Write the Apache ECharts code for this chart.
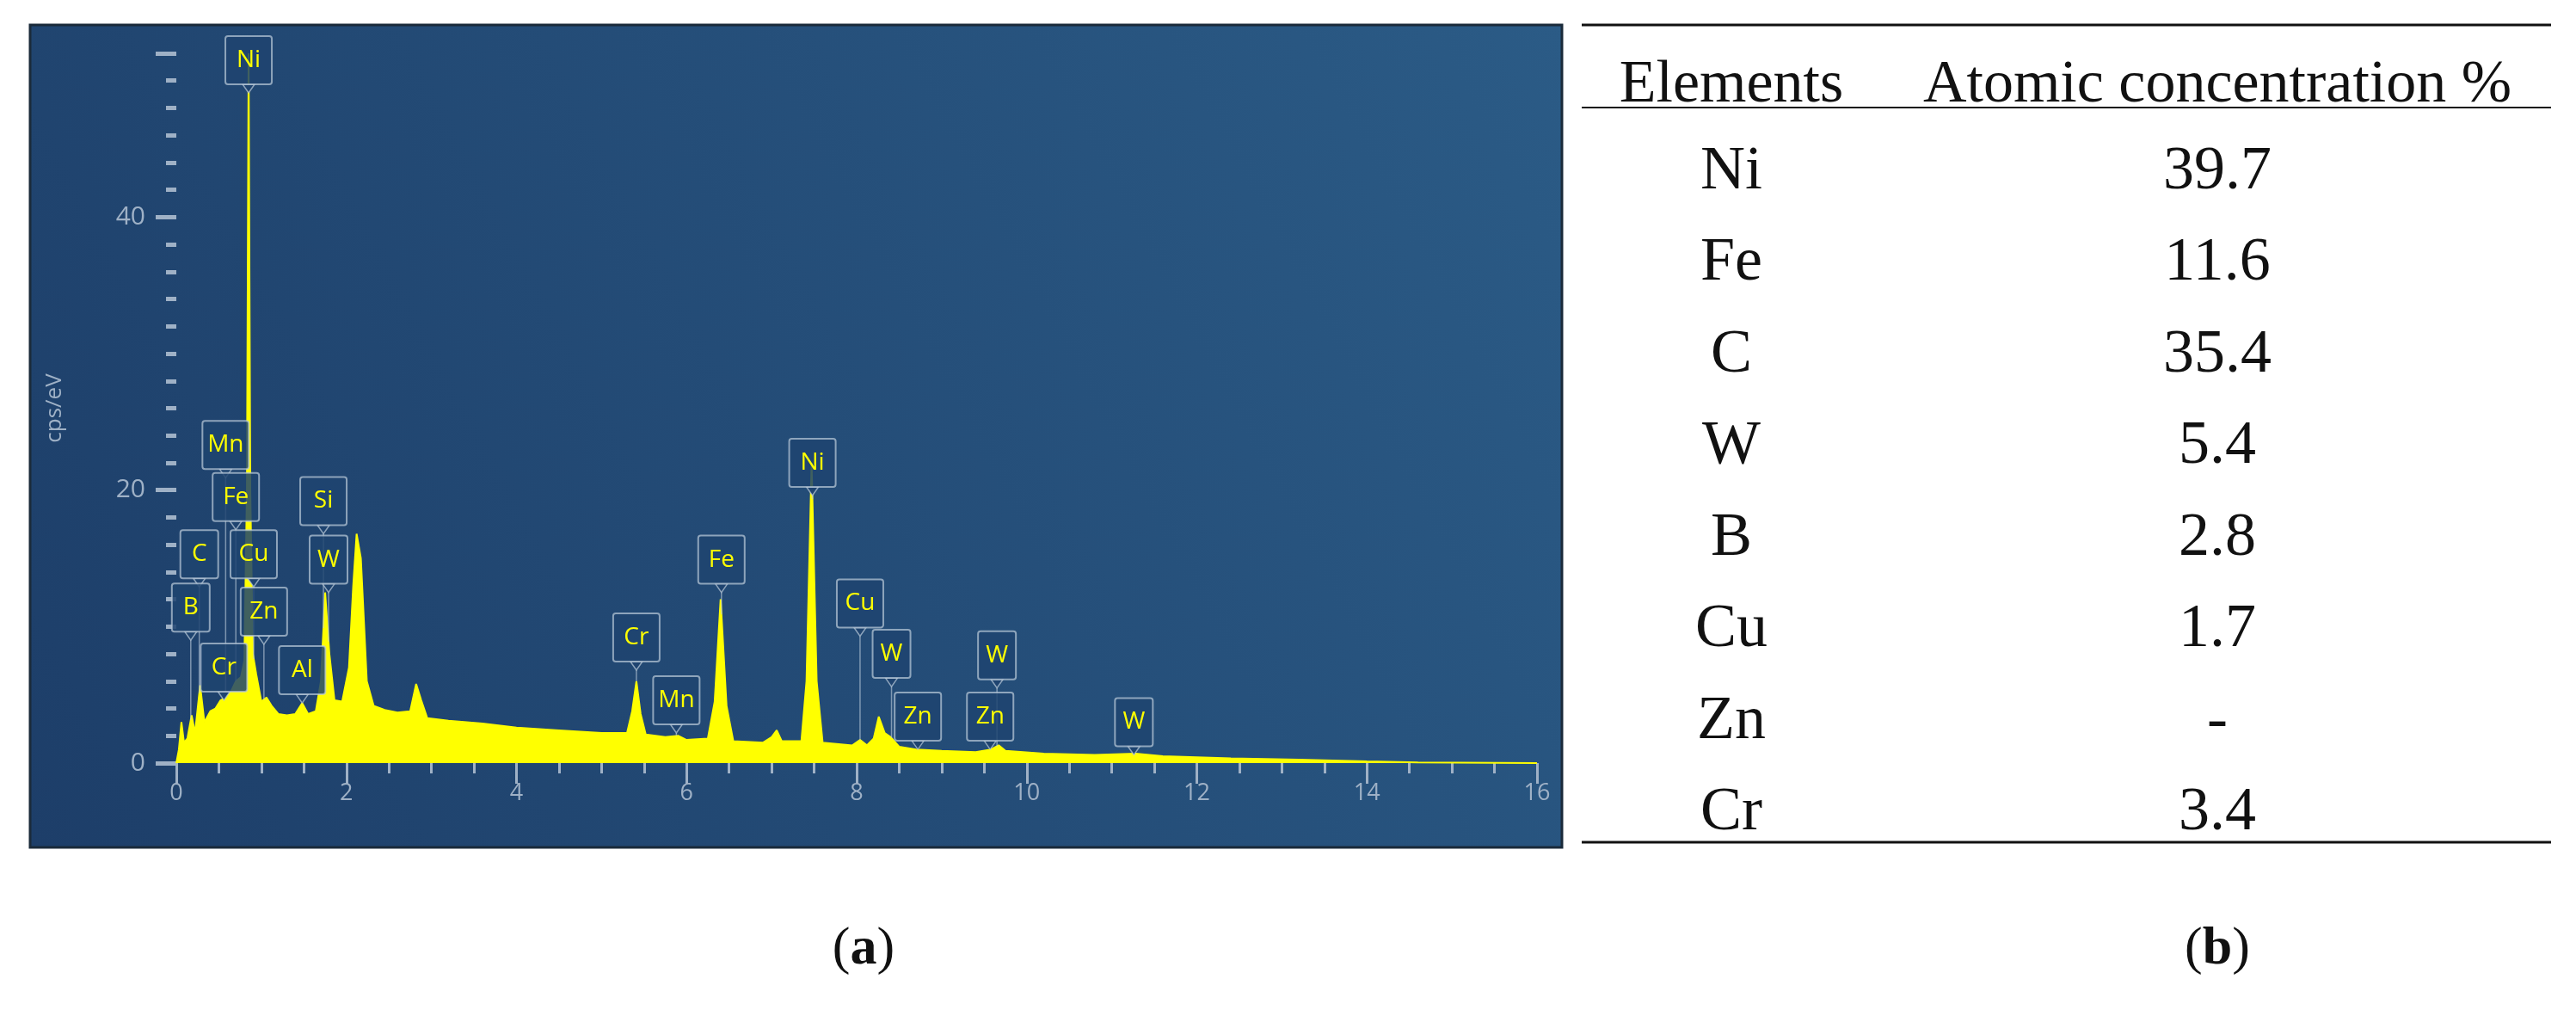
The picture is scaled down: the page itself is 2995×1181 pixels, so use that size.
<!DOCTYPE html>
<html>
<head>
<meta charset="utf-8">
<script src="https://cdn.jsdelivr.net/npm/echarts@6/dist/echarts.min.js"></script>
<style>html,body{margin:0;padding:0;background:#fff}#main{width:2995px;height:1181px}</style>
</head>
<body>
<div id="main"></div>
<script>
// spectrum (keV, cps/eV)
var energyKeV = [0,0.03,0.06,0.09,0.13,0.18,0.22,0.28,0.33,0.40,0.46,0.52,0.58,0.64,0.70,0.76,0.80,0.83,0.85,0.87,0.90,0.94,1.00,1.06,1.12,1.20,1.30,1.40,1.48,1.55,1.64,1.70,1.75,1.80,1.86,1.95,2.03,2.08,2.12,2.17,2.24,2.32,2.45,2.60,2.75,2.82,2.88,2.95,3.2,3.6,4.0,4.5,5.0,5.30,5.36,5.41,5.46,5.52,5.75,5.90,6.00,6.25,6.33,6.40,6.47,6.55,6.90,7.00,7.06,7.12,7.35,7.41,7.47,7.53,7.60,7.95,8.04,8.12,8.20,8.26,8.33,8.40,8.50,8.7,9.0,9.4,9.58,9.67,9.75,10.2,10.8,11.28,11.6,12.4,13.2,14.0,14.6,16]
var countsCps = [0,1.0,3.0,1.5,1.8,3.5,2.2,5.7,3.0,3.8,4.0,4.6,4.8,5.2,6.0,6.3,7.5,20,52,20,8,6.5,4.5,4.8,4.2,3.6,3.5,3.6,4.4,3.6,3.8,6,12.5,8,4.6,4.5,7,13,16.8,15,6,4.2,3.9,3.7,3.8,5.8,4.6,3.3,3.1,2.9,2.6,2.4,2.2,2.2,3.8,6.0,3.6,2.1,1.9,2.0,1.7,1.8,4.5,12.0,4.2,1.6,1.5,1.9,2.4,1.6,1.6,6,22,6,1.5,1.3,1.7,1.3,1.8,3.4,2.2,1.9,1.2,1.0,0.9,0.8,1.0,1.3,0.9,0.7,0.6,0.7,0.5,0.35,0.25,0.12,0.05,0]

// peak tags: name, energy of the box, height of the box
var tagNames  = ['Ni','Mn','Fe','C','Cu','B','Zn','Cr','Al','Si','W','Cr','Mn','Fe','Ni','Cu','W','Zn','W','Zn','W']
var tagEnergy = [0.85,0.58,0.70,0.27,0.91,0.17,1.03,0.56,1.48,1.73,1.79,5.41,5.88,6.41,7.48,8.04,8.41,8.72,9.65,9.57,11.26]
var tagHeight = [51.5,23.3,19.5,15.3,15.3,11.4,11.1,7.0,6.8,19.2,14.9,9.2,4.6,14.9,22,11.7,8.0,3.4,7.9,3.4,3.0]

// table (b)
var tableHead = ['Elements','Atomic concentration %']
var tableElements = ['Ni','Fe','C','W','B','Cu','Zn','Cr']
var tableConcentration = ['39.7','11.6','35.4','5.4','2.8','1.7','-','3.4']

function spectrumAt(e){
  for (var i = 1; i < energyKeV.length; i++) {
    if (e <= energyKeV[i]) {
      var t = (e - energyKeV[i-1]) / (energyKeV[i] - energyKeV[i-1])
      return countsCps[i-1] + t * (countsCps[i] - countsCps[i-1])
    }
  }
  return 0
}

var axisGrey = '#9fb1c6'
var chart = echarts.init(document.getElementById('main'))

var graphics = [{
  type: 'rect', z: -10,
  shape: {x: 35, y: 29, width: 1781, height: 956},
  style: {
    fill: new echarts.graphic.LinearGradient(1, 0, 0, 1, [
      {offset: 0, color: '#2b5b86'}, {offset: 1, color: '#1d3e69'}
    ]),
    stroke: '#1a2a3a', lineWidth: 3
  }
}]

// table lines
var tx0 = 1839, tx1 = 2966
;[29, 125, 979].forEach(function (y, i) {
  graphics.push({type: 'line', shape: {x1: tx0, y1: y, x2: tx1, y2: y}, style: {stroke: '#111', lineWidth: i == 1 ? 2 : 3}})
})
var serif = '"Liberation Serif", "DejaVu Serif", serif'
graphics.push({type: 'text', style: {text: tableHead[0], x: 2013, y: 100, align: 'center', verticalAlign: 'middle', font: '70px ' + serif, fill: '#111'}})
graphics.push({type: 'text', style: {text: tableHead[1], x: 2578, y: 100, align: 'center', verticalAlign: 'middle', font: '70px ' + serif, fill: '#111'}})
tableElements.forEach(function (el, i) {
  var y = 200 + i * 106.5
  graphics.push({type: 'text', style: {text: el, x: 2013, y: y, align: 'center', verticalAlign: 'middle', font: '72px ' + serif, fill: '#111'}})
  graphics.push({type: 'text', style: {text: tableConcentration[i], x: 2578, y: y, align: 'center', verticalAlign: 'middle', font: '72px ' + serif, fill: '#111'}})
})
// captions
;[['a', 1004], ['b', 2578]].forEach(function (c) {
  graphics.push({type: 'text', style: {
    text: '({b|' + c[0] + '})', x: c[1], y: 1104, align: 'center', verticalAlign: 'middle',
    font: '62px ' + serif, fill: '#111',
    rich: {b: {fontWeight: 'bold', fontSize: 62, fontFamily: serif, fill: '#111'}}
  }})
})

var spectrum = energyKeV.map(function (e, i) { return [e, countsCps[i]] })
var tags = tagNames.map(function (n, i) { return [tagEnergy[i], tagHeight[i], n] })

chart.setOption({
  animation: false,
  backgroundColor: '#fff',
  graphic: graphics,
  grid: {left: 205, right: 1208, top: 62, bottom: 294},
  xAxis: [{
    type: 'value', min: 0, max: 16, interval: 2, offset: 10,
    axisLine: {show: false},
    axisTick: {length: 24, lineStyle: {color: axisGrey, width: 3}},
    minorTick: {show: true, splitNumber: 4, length: 12, lineStyle: {color: axisGrey, width: 3}},
    axisLabel: {color: axisGrey, fontSize: 27, fontFamily: 'Open Sans', margin: 12},
    splitLine: {show: false}
  }],
  yAxis: [{
    type: 'value', min: 0, max: 52, interval: 20, offset: 28,
    name: 'cps/eV', nameLocation: 'middle', nameGap: 100, nameRotate: 90,
    nameTextStyle: {color: axisGrey, fontSize: 26, fontFamily: 'Open Sans'},
    axisLine: {show: false},
    axisTick: {length: 24, lineStyle: {color: axisGrey, width: 5}},
    minorTick: {show: true, splitNumber: 10, length: 12, lineStyle: {color: axisGrey, width: 5}},
    axisLabel: {color: axisGrey, fontSize: 30, fontFamily: 'Open Sans', margin: 8, showMaxLabel: false},
    splitLine: {show: false}
  }],
  series: [{
    type: 'line', data: spectrum, symbol: 'none',
    lineStyle: {color: '#ffff00', width: 2},
    areaStyle: {color: '#ffff00', opacity: 1}
  }, {
    type: 'custom', data: tags, z: 5,
    renderItem: function (params, api) {
      var e = api.value(0), h = api.value(1), name = tags[params.dataIndex][2]
      var c = api.coord([e, h])
      var tip = api.coord([e, spectrumAt(e)])
      var w = name.length > 1 ? 54 : 44, hh = 56
      var bottom = c[1] + hh / 2
      return {type: 'group', children: [
        {type: 'line', shape: {x1: c[0], y1: bottom + 10, x2: c[0], y2: Math.max(tip[1], bottom + 10)},
         style: {stroke: 'rgba(190,205,220,0.6)', lineWidth: 1.5}},
        {type: 'polygon', shape: {points: [[c[0] - 7, bottom], [c[0] + 7, bottom], [c[0], bottom + 10]]},
         style: {fill: '#1f4470', stroke: 'rgba(190,205,220,0.7)', lineWidth: 1.5}},
        {type: 'rect', shape: {x: c[0] - w / 2, y: c[1] - hh / 2, width: w, height: hh, r: 3},
         style: {fill: 'rgba(31,68,112,0.85)', stroke: 'rgba(190,205,220,0.7)', lineWidth: 2}},
        {type: 'text', style: {text: name, x: c[0], y: c[1], align: 'center', verticalAlign: 'middle',
         font: '28px "Open Sans"', fill: '#ffff00'}}
      ]}
    }
  }]
})
</script>
</body>
</html>
